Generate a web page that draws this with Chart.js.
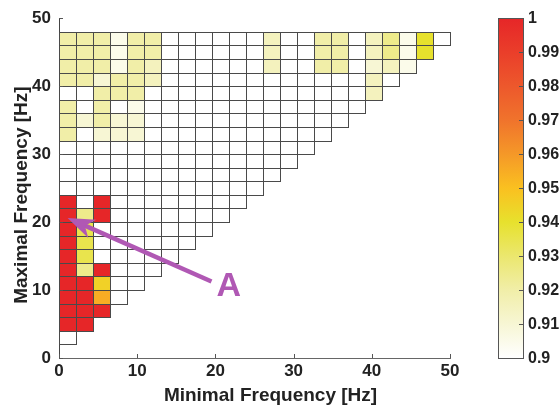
<!DOCTYPE html>
<html>
<head>
<meta charset="utf-8">
<script src="https://cdn.jsdelivr.net/npm/chart.js"></script>
<title></title>
<style type="text/css">
  body{ margin:0; background:#fff; }
  #wrap{ width:559px; height:405px; }
</style>
</head>
<body>
<div id="wrap"><canvas id="heatChart"></canvas></div>
<script>
  // grid: 23 min-frequency columns across 0..50 Hz, 23 max-frequency rows of 2 Hz
  const colCount = 23;
  const xMaxHz = 50;
  const rowLowHz = [2, 4, 6, 8, 10, 12, 14, 16, 18, 20, 22, 24, 26, 28, 30, 32, 34, 36, 38, 40, 42, 44, 46];
  const rowHeightHz = 2;

  // cells that are not at the bottom of the scale (0.9): column, row, value
  const cellCol = [
    0, 1,
    0, 1, 2,
    0, 1, 2,
    0, 1, 2,
    0, 1, 2,
    0, 1,
    0, 1,
    0, 1,
    0, 1, 2,
    0, 2,
    0, 2, 3, 4,
    0, 1, 2, 3, 4,
    0, 2, 4,
    2, 3, 4, 18,
    0, 1, 2, 3, 4, 5, 18,
    0, 1, 2, 3, 4, 5, 12, 15, 16, 18, 19, 20,
    0, 1, 2, 3, 4, 5, 12, 15, 16, 18, 19, 20, 21,
    0, 1, 2, 3, 4, 5, 12, 15, 16, 18, 19, 20, 21
  ];
  const cellRow = [
    1, 1,
    2, 2, 2,
    3, 3, 3,
    4, 4, 4,
    5, 5, 5,
    6, 6,
    7, 7,
    8, 8,
    9, 9, 9,
    10, 10,
    15, 15, 15, 15,
    16, 16, 16, 16, 16,
    17, 17, 17,
    18, 18, 18, 18,
    19, 19, 19, 19, 19, 19, 19,
    20, 20, 20, 20, 20, 20, 20, 20, 20, 20, 20, 20,
    21, 21, 21, 21, 21, 21, 21, 21, 21, 21, 21, 21, 21,
    22, 22, 22, 22, 22, 22, 22, 22, 22, 22, 22, 22, 22
  ];
  const cellVal = [
    1, 1,
    1, 1, 1,
    1, 1, 0.955,
    1, 1, 0.945,
    1, 0.925, 1,
    1, 0.935,
    1, 0.935,
    1, 0.935,
    1, 0.925, 1,
    1, 1,
    0.92, 0.91, 0.91, 0.91,
    0.92, 0.91, 0.92, 0.91, 0.91,
    0.92, 0.92, 0.905,
    0.92, 0.92, 0.92, 0.915,
    0.92, 0.92, 0.91, 0.92, 0.92, 0.915, 0.915,
    0.92, 0.92, 0.92, 0.905, 0.92, 0.915, 0.915, 0.92, 0.92, 0.91, 0.915, 0.905,
    0.92, 0.92, 0.92, 0.905, 0.92, 0.92, 0.915, 0.92, 0.92, 0.915, 0.925, 0.905, 0.94,
    0.92, 0.92, 0.92, 0.905, 0.92, 0.92, 0.915, 0.92, 0.92, 0.915, 0.925, 0.905, 0.94
  ];
  const baseVal = 0.9;

  // colour bar
  const cbarTicks = [0.9, 0.91, 0.92, 0.93, 0.94, 0.95, 0.96, 0.97, 0.98, 0.99, 1];
  const cbarColors = [
    [255, 255, 255], [247, 246, 212], [241, 238, 168], [235, 231, 110], [231, 225, 45],
    [250, 192, 32], [245, 152, 40], [240, 115, 44], [237, 88, 44], [234, 62, 42], [230, 38, 40]
  ];

  // annotation "A" (in Hz)
  const arrowTail = [19.5, 11.25];
  const arrowTip = [1.1, 20.6];
  const labelPos = [21.7, 10.6];
  const labelText = 'A';

  const xTitle = 'Minimal Frequency [Hz]';
  const yTitle = 'Maximal Frequency [Hz]';

  const FONT = "'Liberation Sans', Arial, sans-serif";
  const purple = '#b058b4';

  function cmap(v){
    const lo = cbarTicks[0], hi = cbarTicks[cbarTicks.length - 1];
    const t = Math.min(Math.max(v, lo), hi);
    for (let j = 0; j < cbarTicks.length - 1; j++) {
      if (t <= cbarTicks[j + 1] + 1e-9) {
        const f = (t - cbarTicks[j]) / (cbarTicks[j + 1] - cbarTicks[j]);
        const a = cbarColors[j], b = cbarColors[j + 1];
        return 'rgb(' + [0, 1, 2].map(c => Math.round(a[c] + (b[c] - a[c]) * f)).join(',') + ')';
      }
    }
    return 'rgb(230,38,40)';
  }

  const heatPlugin = {
    id: 'heat',
    beforeDatasetsDraw(chart){
      const ctx = chart.ctx;
      const x = chart.scales.x, y = chart.scales.y;
      const colW = xMaxHz / colCount;
      const values = rowLowHz.map((r, k) => new Array(k + 1).fill(baseVal));
      cellVal.forEach((v, n) => { values[cellRow[n]][cellCol[n]] = v; });

      ctx.save();
      values.forEach((row, k) => {
        const yTop = Math.round(y.getPixelForValue(rowLowHz[k] + rowHeightHz));
        const yBot = Math.round(y.getPixelForValue(rowLowHz[k]));
        row.forEach((v, i) => {
          const x0 = Math.round(x.getPixelForValue(i * colW));
          const x1 = Math.round(x.getPixelForValue((i + 1) * colW));
          ctx.fillStyle = cmap(v);
          ctx.fillRect(x0, yTop, x1 - x0, yBot - yTop);
        });
      });
      ctx.strokeStyle = '#4a4a4a';
      ctx.lineWidth = 1;
      values.forEach((row, k) => {
        const yTop = Math.round(y.getPixelForValue(rowLowHz[k] + rowHeightHz));
        const yBot = Math.round(y.getPixelForValue(rowLowHz[k]));
        row.forEach((v, i) => {
          const x0 = Math.round(x.getPixelForValue(i * colW));
          const x1 = Math.round(x.getPixelForValue((i + 1) * colW));
          ctx.strokeRect(x0 + 0.5, yTop + 0.5, x1 - x0, yBot - yTop);
        });
      });
      ctx.restore();
    },
    afterDraw(chart){
      const ctx = chart.ctx;
      const x = chart.scales.x, y = chart.scales.y;
      const area = chart.chartArea;
      ctx.save();

      // inward ticks
      ctx.strokeStyle = '#555';
      ctx.lineWidth = 1;
      x.ticks.forEach(t => {
        const px = Math.round(x.getPixelForValue(t.value)) + 0.5;
        ctx.beginPath(); ctx.moveTo(px, area.bottom); ctx.lineTo(px, area.bottom - 4); ctx.stroke();
      });
      y.ticks.forEach(t => {
        const py = Math.round(y.getPixelForValue(t.value)) + 0.5;
        ctx.beginPath(); ctx.moveTo(area.left, py); ctx.lineTo(area.left + 4, py); ctx.stroke();
      });

      // axis titles (sit a bit off the axis centre, as in the original figure)
      ctx.fillStyle = '#222';
      ctx.font = 'bold 19px ' + FONT;
      ctx.textAlign = 'center';
      ctx.textBaseline = 'middle';
      ctx.fillText(xTitle, (area.left + area.right) / 2 + 16, 396);
      ctx.save();
      ctx.translate(22, (area.top + area.bottom) / 2 + 7);
      ctx.rotate(-Math.PI / 2);
      ctx.fillText(yTitle, 0, 0);
      ctx.restore();

      // colour bar
      const cbL = area.right + 48, cbR = area.right + 73;
      const cbT = Math.round(y.getPixelForValue(50)), cbB = Math.round(y.getPixelForValue(0));
      const grad = ctx.createLinearGradient(0, cbB, 0, cbT);
      cbarColors.forEach((c, j) => grad.addColorStop(j / (cbarColors.length - 1), 'rgb(' + c.join(',') + ')'));
      ctx.fillStyle = grad;
      ctx.fillRect(cbL, cbT, cbR - cbL, cbB - cbT);
      ctx.strokeStyle = '#555';
      ctx.strokeRect(cbL + 0.5, cbT + 0.5, cbR - cbL, cbB - cbT);
      ctx.fillStyle = '#222';
      ctx.font = 'bold 16px ' + FONT;
      ctx.textAlign = 'left';
      ctx.textBaseline = 'middle';
      const lo = cbarTicks[0], hi = cbarTicks[cbarTicks.length - 1];
      cbarTicks.forEach(t => {
        const py = cbB - (t - lo) / (hi - lo) * (cbB - cbT);
        ctx.beginPath(); ctx.moveTo(cbR, Math.round(py) + 0.5); ctx.lineTo(cbR - 4, Math.round(py) + 0.5); ctx.stroke();
        ctx.fillText(String(Number(t.toFixed(2))), cbR + 5, py + 1);
      });

      // arrow + label
      const tx = x.getPixelForValue(arrowTip[0]), ty = y.getPixelForValue(arrowTip[1]);
      const sx = x.getPixelForValue(arrowTail[0]), sy = y.getPixelForValue(arrowTail[1]);
      const ang = Math.atan2(sy - ty, sx - tx);
      const ux = Math.cos(ang), uy = Math.sin(ang);
      ctx.strokeStyle = purple;
      ctx.fillStyle = purple;
      ctx.lineWidth = 4.5;
      ctx.lineCap = 'butt';
      ctx.beginPath();
      ctx.moveTo(tx + ux * 14, ty + uy * 14);
      ctx.lineTo(sx, sy);
      ctx.stroke();
      const hl = 27, hw = 10;
      ctx.beginPath();
      ctx.moveTo(tx, ty);
      ctx.lineTo(tx + ux * hl - uy * hw, ty + uy * hl + ux * hw);
      ctx.lineTo(tx + ux * hl * 0.7, ty + uy * hl * 0.7);
      ctx.lineTo(tx + ux * hl + uy * hw, ty + uy * hl - ux * hw);
      ctx.closePath();
      ctx.fill();
      ctx.font = 'bold 34px ' + FONT;
      ctx.textAlign = 'center';
      ctx.textBaseline = 'middle';
      ctx.fillText(labelText, x.getPixelForValue(labelPos[0]), y.getPixelForValue(labelPos[1]) + 1);
      ctx.restore();
    }
  };

  const heatChart = new Chart(document.getElementById('heatChart'), {
    type: 'scatter',
    data: { datasets: [{ data: [] }] },
    plugins: [heatPlugin],
    options: {
      responsive: true,
      maintainAspectRatio: false,
      animation: false,
      layout: { padding: { top: 16, right: 109, left: 0, bottom: 0 } },
      plugins: { legend: { display: false }, tooltip: { enabled: false } },
      scales: {
        x: {
          type: 'linear', min: 0, max: xMaxHz,
          ticks: { stepSize: 10, color: '#222', padding: 3, font: { family: FONT, size: 17, weight: 'bold' } },
          grid: { display: false, drawTicks: false },
          border: { display: true, color: '#666', width: 1 },
          afterFit(s){ s.height = 47; }
        },
        y: {
          type: 'linear', min: 0, max: 50,
          ticks: { stepSize: 10, color: '#222', padding: 8, font: { family: FONT, size: 17, weight: 'bold' } },
          grid: { display: false, drawTicks: false },
          border: { display: true, color: '#444', width: 1 },
          afterFit(s){ s.width = 59; }
        }
      }
    }
  });
</script>
</body>
</html>
